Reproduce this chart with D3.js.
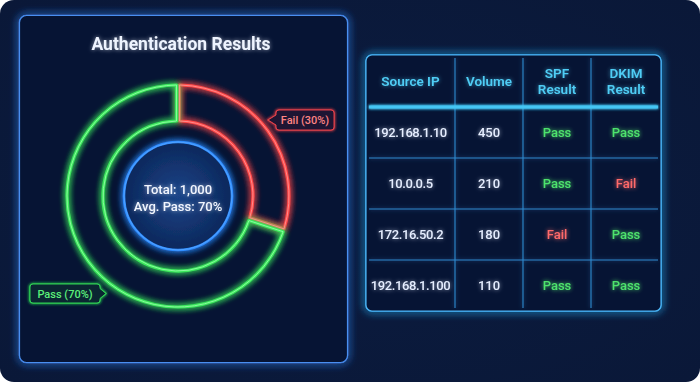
<!DOCTYPE html>
<html><head><meta charset="utf-8">
<script src="https://cdn.jsdelivr.net/npm/d3@7"></script>
<style>
html,body{margin:0;padding:0;background:#ffffff;}
svg{display:block;font-family:Roboto,"Noto Sans",sans-serif;}
</style></head>
<body>
<svg id="chart" width="700" height="382"></svg>
<script>
// ---- data ----
const segLabels = ["Fail", "Pass"];
const segValues = [30, 70];
const totalText = "Total: 1,000";
const avgText = "Avg. Pass: 70%";
const headers = [["Source IP"], ["Volume"], ["SPF", "Result"], ["DKIM", "Result"]];
const sourceIPs = ["192.168.1.10", "10.0.0.5", "172.16.50.2", "192.168.1.100"];
const volumes = [450, 210, 180, 110];
const spfResults = ["Pass", "Pass", "Fail", "Pass"];
const dkimResults = ["Pass", "Fail", "Pass", "Pass"];

// ---- layout ----
const W = 700, H = 382;
const svg = d3.select("#chart");
const defs = svg.append("defs");

function region(f) {
  return f.attr("filterUnits", "userSpaceOnUse")
    .attr("x", -W).attr("y", -H).attr("width", 3 * W).attr("height", 3 * H);
}
function glow(id, sd, strength) {
  const f = region(defs.append("filter").attr("id", id));
  f.append("feGaussianBlur").attr("in", "SourceGraphic").attr("stdDeviation", sd).attr("result", "b");
  const m = f.append("feMerge");
  for (let k = 0; k < strength; k++) m.append("feMergeNode").attr("in", "b");
  m.append("feMergeNode").attr("in", "SourceGraphic");
}
function softGlow(id, sd, op) {
  const f = region(defs.append("filter").attr("id", id));
  f.append("feGaussianBlur").attr("in", "SourceGraphic").attr("stdDeviation", sd).attr("result", "b");
  f.append("feComponentTransfer").attr("in", "b").attr("result", "b2")
    .append("feFuncA").attr("type", "linear").attr("slope", op);
  const m = f.append("feMerge");
  m.append("feMergeNode").attr("in", "b2");
  m.append("feMergeNode").attr("in", "SourceGraphic");
}
glow("glow", 3, 2);
glow("glowS", 1.6, 2);
glow("glowPanel", 4, 2);
softGlow("textGlow", 2, 0.6);
softGlow("resGlow", 2.2, 0.9);

const rg = defs.append("radialGradient").attr("id", "centerFill");
rg.append("stop").attr("offset", "0%").attr("stop-color", "#1a4488");
rg.append("stop").attr("offset", "100%").attr("stop-color", "#0d285c");

const cardGrad = defs.append("radialGradient").attr("id", "cardFill")
  .attr("cx", "50%").attr("cy", "50%").attr("r", "70%");
cardGrad.append("stop").attr("offset", "0%").attr("stop-color", "#0b1c40");
cardGrad.append("stop").attr("offset", "100%").attr("stop-color", "#0a1838");

// outer card
svg.append("rect").attr("x", 0).attr("y", 0).attr("width", W).attr("height", H)
  .attr("rx", 14).attr("fill", "url(#cardFill)");

// left panel
svg.append("rect").attr("x", 19.5).attr("y", 15.5).attr("width", 328).attr("height", 347)
  .attr("rx", 7).attr("fill", "#071536").attr("stroke", "#3a7fe6").attr("stroke-width", 1.5)
  .attr("filter", "url(#glowPanel)");
svg.append("rect").attr("x", 19.5).attr("y", 15.5).attr("width", 328).attr("height", 347)
  .attr("rx", 7).attr("fill", "#061434").attr("stroke", "#4a8ff0").attr("stroke-width", 1.2);

// title
svg.append("text").attr("x", 181).attr("y", 50).attr("text-anchor", "middle")
  .attr("fill", "#eef4ff").attr("font-size", 17.5).attr("font-weight", 700)
  .attr("filter", "url(#textGlow)").text("Authentication Results");

// donut
const cx = 178, cy = 196;
const g = svg.append("g").attr("transform", `translate(${cx},${cy})`);
const pie = d3.pie().sort(null).value(d => d)(segValues);
const arc = d3.arc().innerRadius(75).outerRadius(111).padAngle(0.022);
const segColor = d3.scaleOrdinal().domain(segLabels).range(["#ff4848", "#3be85c"]);
const segCore = d3.scaleOrdinal().domain(segLabels).range(["#ff9a9a", "#9dffae"]);

g.selectAll("path.seg").data(pie).join("path").attr("class", "seg")
  .attr("d", arc).attr("fill", "none")
  .attr("stroke", (d, i) => segColor(segLabels[i])).attr("stroke-width", 3.2)
  .attr("stroke-linejoin", "round").attr("filter", "url(#glow)");
g.selectAll("path.core").data(pie).join("path").attr("class", "core")
  .attr("d", arc).attr("fill", "none")
  .attr("stroke", (d, i) => segCore(segLabels[i])).attr("stroke-width", 1)
  .attr("stroke-linejoin", "round").attr("opacity", 0.8);

// center circle
g.append("circle").attr("r", 54).attr("fill", "url(#centerFill)")
  .attr("stroke", "#2e8cff").attr("stroke-width", 2.6).attr("filter", "url(#glow)");
g.append("circle").attr("r", 54).attr("fill", "none")
  .attr("stroke", "#5aa8ff").attr("stroke-width", 1).attr("opacity", 0.8);
g.append("text").attr("y", -2).attr("text-anchor", "middle").attr("fill", "#f2f6ff")
  .attr("font-size", 13).attr("font-weight", 500).attr("filter", "url(#textGlow)").text(totalText);
g.append("text").attr("y", 15).attr("text-anchor", "middle").attr("fill", "#f2f6ff")
  .attr("font-size", 13).attr("font-weight", 500).attr("filter", "url(#textGlow)").text(avgText);

// callouts
function callout(x0, x1, y0, y1, side, tip, stroke, fill, textColor, label) {
  const ym = (y0 + y1) / 2, r = 3;
  let p;
  if (side === "left") {
    p = `M${x0 + r},${y0} H${x1 - r} Q${x1},${y0} ${x1},${y0 + r} V${y1 - r} Q${x1},${y1} ${x1 - r},${y1}
      H${x0 + r} Q${x0},${y1} ${x0},${y1 - r} V${ym + 5} L${tip},${ym} L${x0},${ym - 5} V${y0 + r} Q${x0},${y0} ${x0 + r},${y0}Z`;
  } else {
    p = `M${x0 + r},${y0} H${x1 - r} Q${x1},${y0} ${x1},${y0 + r} V${ym - 5} L${tip},${ym} L${x1},${ym + 5} V${y1 - r} Q${x1},${y1} ${x1 - r},${y1}
      H${x0 + r} Q${x0},${y1} ${x0},${y1 - r} V${y0 + r} Q${x0},${y0} ${x0 + r},${y0}Z`;
  }
  svg.append("path").attr("d", p).attr("fill", fill).attr("stroke", stroke)
    .attr("stroke-width", 1.2).attr("filter", "url(#glowS)");
  svg.append("path").attr("d", p).attr("fill", fill).attr("stroke", stroke).attr("stroke-width", 1);
  svg.append("text").attr("x", (x0 + x1) / 2).attr("y", ym + 4).attr("text-anchor", "middle")
    .attr("fill", textColor).attr("font-size", 11).attr("font-weight", 500).text(label);
}
callout(276, 334, 110, 130, "left", 268, "#e0404a", "#1e1533", "#ff8484",
  `${segLabels[0]} (${segValues[0]}%)`);
callout(30, 100, 284, 303, "right", 106, "#2fcf55", "#0b2632", "#5cf07a",
  `${segLabels[1]} (${segValues[1]}%)`);

// table
const tX0 = 366, tX1 = 661, tY0 = 55, tY1 = 311, headBottom = 107;
const colEdges = [366, 455, 523, 591, 661];
const rows = d3.range(sourceIPs.length);
const yRow = d3.scaleBand().domain(rows).range([headBottom, tY1]);

svg.append("rect").attr("x", tX0).attr("y", tY0).attr("width", tX1 - tX0).attr("height", tY1 - tY0)
  .attr("rx", 6).attr("fill", "#061434").attr("stroke", "#38a6ee").attr("stroke-width", 1.5)
  .attr("filter", "url(#glowPanel)");
svg.append("rect").attr("x", tX0).attr("y", tY0).attr("width", tX1 - tX0).attr("height", tY1 - tY0)
  .attr("rx", 6).attr("fill", "#061434").attr("stroke", "#4cb2f2").attr("stroke-width", 1.2);

const tg = svg.append("g");
// vertical dividers
tg.selectAll("line.v").data(colEdges.slice(1, -1)).join("line").attr("class", "v")
  .attr("x1", d => d).attr("x2", d => d).attr("y1", 58).attr("y2", 308)
  .attr("stroke", "#2f8ad0").attr("stroke-width", 1.1).attr("filter", "url(#textGlow)");
// row dividers
tg.selectAll("line.h").data(rows.slice(1)).join("line").attr("class", "h")
  .attr("x1", 369).attr("x2", 658).attr("y1", d => yRow(d)).attr("y2", d => yRow(d))
  .attr("stroke", "#2f8ad0").attr("stroke-width", 1.1).attr("filter", "url(#textGlow)");
// header line
tg.append("line").attr("x1", 369).attr("x2", 658).attr("y1", headBottom).attr("y2", headBottom)
  .attr("stroke", "#44c6f4").attr("stroke-width", 3).attr("filter", "url(#glowS)");

const colCenter = i => (colEdges[i] + colEdges[i + 1]) / 2;
headers.forEach((lines, i) => {
  const t = tg.append("text").attr("text-anchor", "middle").attr("fill", "#4fcdf5")
    .attr("font-size", 13.5).attr("font-weight", 600).attr("filter", "url(#textGlow)");
  const yc = (tY0 + headBottom) / 2;
  if (lines.length === 1) {
    t.append("tspan").attr("x", colCenter(i)).attr("y", yc + 5).text(lines[0]);
  } else {
    t.append("tspan").attr("x", colCenter(i)).attr("y", yc - 3).text(lines[0]);
    t.append("tspan").attr("x", colCenter(i)).attr("y", yc + 13).text(lines[1]);
  }
});

const resColor = v => v === "Pass" ? "#4ee36c" : "#ff6a6a";
rows.forEach(r => {
  const yc = yRow(r) + yRow.bandwidth() / 2 + 4.5;
  const cells = [sourceIPs[r], String(volumes[r]), spfResults[r], dkimResults[r]];
  cells.forEach((v, i) => {
    const isRes = i >= 2;
    tg.append("text").attr("x", colCenter(i)).attr("y", yc).attr("text-anchor", "middle")
      .attr("fill", isRes ? resColor(v) : "#e6eeff").attr("font-size", 13)
      .attr("letter-spacing", i === 0 ? -0.4 : 0)
      .attr("font-weight", 500).attr("filter", isRes ? "url(#resGlow)" : "url(#textGlow)").text(v);
  });
});
</script>
</body></html>
